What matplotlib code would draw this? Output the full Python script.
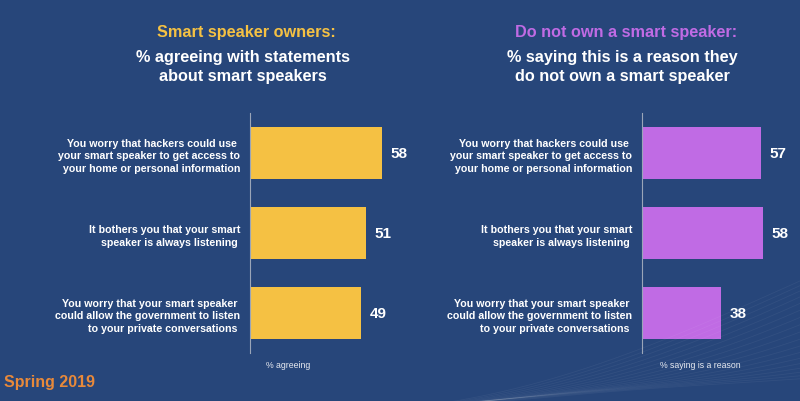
import numpy as np
import matplotlib
matplotlib.use("Agg")
import matplotlib.pyplot as plt

plt.rcParams['font.family'] = ['Liberation Sans', 'DejaVu Sans']

#%% data
statements = [
    "You worry that hackers could use \nyour smart speaker to get access to\nyour home or personal information",
    "It bothers you that your smart\nspeaker is always listening ",
    "You worry that your smart speaker \ncould allow the government to listen\nto your private conversations ",
]
owners_pct = [58, 51, 49]
non_owners_pct = [57, 58, 38]

bg = '#27467a'
yellow = '#f5c143'
purple = '#c06be4'
orange = '#e8893a'

fig = plt.figure(figsize=(8, 4.02), dpi=100)
fig.patch.set_facecolor(bg)

# faint decorative waves along the bottom
xs = np.linspace(0.38, 1.0, 300)
u = (xs - 0.38) / 0.62
for k in range(18):
    ys = -0.03 + (0.10 + 0.012 * k) * u ** 1.8 + 0.025 * np.sin(np.pi * u * 1.2 + 0.25 * k) * u
    fig.add_artist(plt.Line2D(xs, ys, color='white', alpha=0.05, lw=0.6,
                              transform=fig.transFigure))


def panel(left, width, vals, color, xlabel, label_x):
    ax = fig.add_axes([left, 0.1194, width, 0.597])
    ax.set_facecolor('none')
    y = np.arange(len(vals))
    ax.barh(y, vals, height=0.66, color=color)
    ax.set_xlim(0, 100)
    ax.set_ylim(2.5, -0.5)
    for s in ['top', 'right', 'bottom']:
        ax.spines[s].set_visible(False)
    ax.spines['left'].set_color('#9aa5b8')
    ax.spines['left'].set_linewidth(0.8)
    ax.set_xticks([])
    ax.set_yticks(y)
    ax.set_yticklabels(statements, fontsize=7.7, fontweight='bold', color='white',
                       ha='right', multialignment='right', linespacing=1.32)
    ax.tick_params(axis='y', length=0, pad=7)
    for yi, v in zip(y, vals):
        ax.annotate(str(v), (v, yi), xytext=(6, 0), textcoords='offset points',
                    va='center', ha='left', fontsize=11, fontweight='bold',
                    color='white')
    ax.set_xlabel(xlabel, fontsize=6.3, color='#e6e9f0', labelpad=5)
    ax.xaxis.set_label_coords(label_x, -0.03)
    return ax


panel(250 / 800, 227 / 800, owners_pct, yellow, '% agreeing', 0.17)
panel(642 / 800, 209 / 800, non_owners_pct, purple, '% saying is a reason', 0.28)

# titles
fig.text(246 / 800, 1 - 32 / 402, 'Smart speaker owners:', color=yellow,
         fontsize=11.7, fontweight='bold', ha='center', va='center')
fig.text(243 / 800, 1 - 67 / 402, '% agreeing with statements\nabout smart speakers',
         color='white', fontsize=11.7, fontweight='bold', ha='center', va='center',
         linespacing=1.35)
fig.text(626 / 800, 1 - 32 / 402, 'Do not own a smart speaker:', color=purple,
         fontsize=11.7, fontweight='bold', ha='center', va='center')
fig.text(622 / 800, 1 - 67 / 402, '% saying this is a reason they\ndo not own a smart speaker',
         color='white', fontsize=11.7, fontweight='bold', ha='center', va='center',
         linespacing=1.35)

fig.text(4 / 800, 1 - 383 / 402, 'Spring 2019', color=orange, fontsize=11.5,
         fontweight='bold', ha='left', va='center')

fig.savefig('out.png', dpi=100, facecolor=bg)
